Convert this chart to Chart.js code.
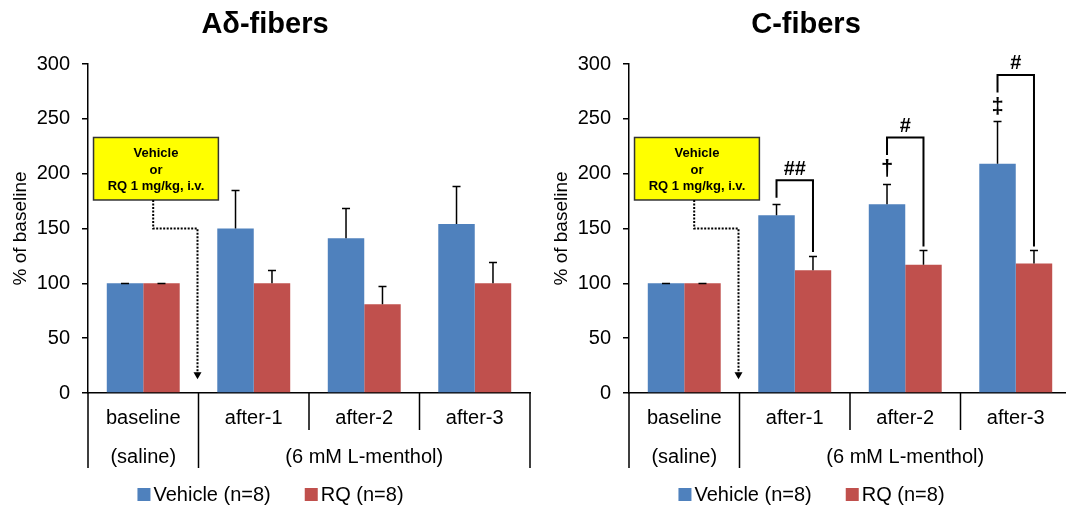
<!DOCTYPE html>
<html>
<head>
<meta charset="utf-8">
<script src="https://cdn.jsdelivr.net/npm/chart.js@4.4.1/dist/chart.umd.min.js"></script>
<style>
  html, body { margin: 0; padding: 0; background: #fff; }
  body { width: 1066px; height: 506px; overflow: hidden; position: relative; }
  .panel { position: absolute; top: 0; width: 541px; height: 506px; }
</style>
</head>
<body>
<div class="panel" style="left:0"><canvas id="adChart" width="541" height="506"></canvas></div>
<div class="panel" style="left:541px"><canvas id="cChart" width="541" height="506"></canvas></div>
<script>
const categories = ['baseline', 'after-1', 'after-2', 'after-3'];
const groupLabels = ['(saline)', '(6 mM L-menthol)'];
const seriesNames = ['Vehicle (n=8)', 'RQ (n=8)'];
const yTicks = [0, 50, 100, 150, 200, 250, 300];

// A-delta fibers, % of baseline (mean, +SEM)
const adVehicle = [100, 150, 141, 154];
const adVehicleErr = [0.5, 35, 28, 35];
const adRQ = [100, 100, 81, 100];
const adRQErr = [0.5, 12, 17, 19];

// C fibers
const cVehicle = [100, 162, 172, 209];
const cVehicleErr = [0.5, 10, 19, 39];
const cRQ = [100, 112, 117, 118];
const cRQErr = [0.5, 13, 13, 12];

// significance marks (C fibers only)
const cSigPair = ['', '##', '#', '#'];
const cSigBase = ['', '', '\u2020', '\u2021'];
const noteLines = ['Vehicle', 'or', 'RQ 1 mg/kg, i.v.'];

const BLUE = '#4F81BD', RED = '#C0504D';
const FONT = "'Liberation Sans', Arial, sans-serif";

const decor = {
  id: 'decor',
  afterDatasetsDraw(chart) {
    const ctx = chart.ctx, y = chart.scales.y;
    ctx.save();
    ctx.strokeStyle = '#000';
    ctx.lineWidth = 1.5;
    chart.data.datasets.forEach((ds, i) => {
      chart.getDatasetMeta(i).data.forEach((bar, j) => {
        const top = Math.round(y.getPixelForValue(ds.data[j] + ds.errors[j])) + 0.5;
        ctx.beginPath();
        ctx.moveTo(bar.x, bar.y);
        ctx.lineTo(bar.x, top);
        ctx.moveTo(bar.x - 4, top);
        ctx.lineTo(bar.x + 4, top);
        ctx.stroke();
      });
    });
    ctx.restore();
  },
  afterDraw(chart, args, opts) {
    const ctx = chart.ctx, x = chart.scales.x, y = chart.scales.y;
    const area = chart.chartArea;
    const cx = i => x.getPixelForValue(i);
    const step = cx(1) - cx(0);
    ctx.save();

    // multi-level category axis
    ctx.fillStyle = '#000';
    ctx.font = '20px ' + FONT;
    ctx.textAlign = 'center';
    ctx.textBaseline = 'middle';
    categories.forEach((c, i) => ctx.fillText(c, cx(i), area.bottom + 25));
    ctx.fillText(groupLabels[0], cx(0), area.bottom + 64);
    ctx.fillText(groupLabels[1], cx(2), area.bottom + 64);
    ctx.strokeStyle = '#000';
    ctx.lineWidth = 1.5;
    ctx.beginPath();
    [area.left, cx(0) + step / 2, area.right].forEach(px => {
      ctx.moveTo(px, area.bottom); ctx.lineTo(px, area.bottom + 75);
    });
    [cx(1) + step / 2, cx(2) + step / 2].forEach(px => {
      ctx.moveTo(px, area.bottom); ctx.lineTo(px, area.bottom + 37);
    });
    ctx.stroke();

    // legend
    ctx.font = '20px ' + FONT;
    ctx.textAlign = 'left';
    const widths = seriesNames.map(s => ctx.measureText(s).width);
    const total = 16 * 2 + widths[0] + widths[1] + 34;
    let lx = chart.width / 2 - total / 2;
    const ly = 494;
    seriesNames.forEach((s, i) => {
      ctx.fillStyle = chart.data.datasets[i].backgroundColor;
      ctx.fillRect(lx, ly - 6, 13, 13);
      ctx.fillStyle = '#000';
      ctx.fillText(s, lx + 16, ly + 1);
      lx += 16 + widths[i] + 34;
    });

    // treatment note box and dotted arrow
    const bl = cx(0) - 0.45 * step, br = cx(0) + 0.68 * step;
    const bt = y.getPixelForValue(233), bb = y.getPixelForValue(176);
    ctx.fillStyle = '#FFFF00';
    ctx.fillRect(bl, bt, br - bl, bb - bt);
    ctx.strokeStyle = '#333';
    ctx.lineWidth = 1.5;
    ctx.strokeRect(bl, bt, br - bl, bb - bt);
    ctx.fillStyle = '#000';
    ctx.font = 'bold 13px ' + FONT;
    ctx.textAlign = 'center';
    noteLines.forEach((t, i) => ctx.fillText(t, (bl + br) / 2, bt + 16 + i * 16.5));

    const dx1 = cx(0) + 0.09 * step, dx2 = cx(0) + step / 2 - 1;
    const corner = y.getPixelForValue(150), tip = y.getPixelForValue(12.5);
    ctx.strokeStyle = '#000';
    ctx.lineWidth = 2;
    ctx.setLineDash([2, 1.5]);
    ctx.beginPath();
    ctx.moveTo(dx1, bb);
    ctx.lineTo(dx1, corner);
    ctx.lineTo(dx2, corner);
    ctx.lineTo(dx2, tip - 6);
    ctx.stroke();
    ctx.setLineDash([]);
    ctx.beginPath();
    ctx.moveTo(dx2 - 4, tip - 7);
    ctx.lineTo(dx2 + 4, tip - 7);
    ctx.lineTo(dx2, tip);
    ctx.closePath();
    ctx.fill();

    // significance brackets
    if (opts.showSig) {
      const veh = chart.getDatasetMeta(0).data, rq = chart.getDatasetMeta(1).data;
      const dv = chart.data.datasets[0], dr = chart.data.datasets[1];
      ctx.lineWidth = 2;
      ctx.textBaseline = 'middle';
      for (let i = 1; i < categories.length; i++) {
        const vTop = dv.data[i] + dv.errors[i];
        const rTop = dr.data[i] + dr.errors[i];
        const mark = cSigBase[i];
        const barY = y.getPixelForValue(vTop + (mark ? 42 : 22));
        const leftEnd = y.getPixelForValue(vTop + (mark ? 26 : 6));
        const rightEnd = y.getPixelForValue(rTop) - 4;
        ctx.beginPath();
        ctx.moveTo(veh[i].x, leftEnd);
        ctx.lineTo(veh[i].x, barY);
        ctx.lineTo(rq[i].x, barY);
        ctx.lineTo(rq[i].x, rightEnd);
        ctx.stroke();
        ctx.font = 'bold 20px ' + FONT;
        ctx.fillText(cSigPair[i], (veh[i].x + rq[i].x) / 2, barY - 11);
        if (mark) {
          ctx.font = 'bold 22px ' + FONT;
          ctx.fillText(mark, veh[i].x, y.getPixelForValue(vTop + 13));
        }
      }
    }
    ctx.restore();
  }
};

function makeChart(id, title, vehicle, vehicleErr, rq, rqErr, showSig) {
  return new Chart(document.getElementById(id).getContext('2d'), {
    type: 'bar',
    data: {
      labels: categories,
      datasets: [
        { label: seriesNames[0], data: vehicle, errors: vehicleErr, backgroundColor: BLUE },
        { label: seriesNames[1], data: rq, errors: rqErr, backgroundColor: RED }
      ]
    },
    options: {
      responsive: false,
      animation: false,
      layout: { padding: { top: 0, right: 11, bottom: 0, left: 0 } },
      datasets: { bar: { categoryPercentage: 0.66, barPercentage: 1 } },
      plugins: {
        legend: { display: false },
        tooltip: { enabled: false },
        title: {
          display: true, text: title, color: '#000',
          font: { family: FONT, size: 29, weight: 'bold' },
          padding: { top: 8, bottom: 21.2 }
        },
        decor: { showSig: showSig }
      },
      scales: {
        x: {
          grid: { display: false },
          ticks: { display: false },
          border: { color: '#000', width: 1.5 },
          afterFit: s => { s.height = 113; }
        },
        y: {
          min: 0, max: 300,
          afterBuildTicks: s => { s.ticks = yTicks.map(v => ({ value: v })); },
          grid: { drawOnChartArea: false, color: '#000', tickLength: 6, lineWidth: 1.5 },
          border: { color: '#000', width: 1.5 },
          ticks: { color: '#000', padding: 12, font: { family: FONT, size: 20 } },
          title: {
            display: true, text: '% of baseline', color: '#000',
            font: { family: FONT, size: 19 }, padding: { top: 9, bottom: 0 }
          },
          afterFit: s => { s.width = 88; }
        }
      }
    },
    plugins: [decor]
  });
}

makeChart('adChart', 'A\u03b4-fibers', adVehicle, adVehicleErr, adRQ, adRQErr, false);
makeChart('cChart', 'C-fibers', cVehicle, cVehicleErr, cRQ, cRQErr, true);
</script>
</body>
</html>
